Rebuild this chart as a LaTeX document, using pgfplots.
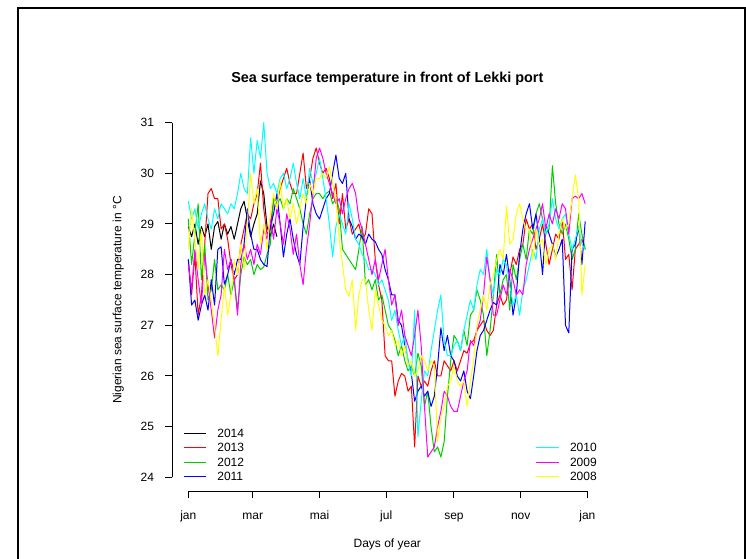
\documentclass[border=0pt]{standalone}
\usepackage{fontspec}
\setmainfont{Liberation Sans}
\usepackage{pgfplots}
\usepackage{pgfplotstable}
\pgfplotsset{compat=1.18}
\definecolor{cR}{HTML}{FF0000}
\definecolor{cG}{HTML}{00CD00}
\definecolor{cB}{HTML}{0000FF}
\definecolor{cC}{HTML}{00FFFF}
\definecolor{cM}{HTML}{FF00FF}
\definecolor{cY}{HTML}{FFFF00}
\pgfplotstableread{
d blk red grn blu cya mag yel
1 28.95 28.3 29.1 28.3 29.45 28.2 28.5
4 28.75 27.6 28.2 27.4 29.1 27.7 29.3
7 29.0 28.4 28.8 27.5 29.3 28.5 28.7
10 28.6 27.2 29.4 27.1 28.9 27.9 28.1
13 28.95 27.6 27.9 27.4 29.2 27.4 28.9
16 28.75 28.6 28.6 27.6 29.4 28.4 27.6
19 29.0 29.6 27.5 27.3 29.1 27.8 27.9
22 28.5 29.7 27.7 27.9 28.9 27.3 27.5
25 28.95 29.5 28.3 27.4 29.3 26.75 27.0
28 29.05 29.5 27.7 28.5 29.1 27.3 26.4
31 28.7 28.9 27.8 28.55 29.4 27.6 27.1
34 29.0 29.0 27.7 27.8 29.3 28.5 27.8
37 28.8 28.7 28.0 28.0 29.2 28.1 27.2
40 28.95 28.2 27.6 28.3 29.4 28.3 27.6
43 28.7 27.9 27.9 28.0 29.3 27.9 28.3
46 29.0 28.0 27.3 28.3 29.6 27.2 28.0
49 29.3 28.6 28.0 28.3 30.0 28.2 28.6
52 29.45 28.9 28.35 28.6 29.7 28.6 28.1
55 29.1 29.2 28.2 29.3 29.6 28.3 29.0
58 28.75 29.1 28.3 28.8 30.7 28.5 30.0
61 29.0 29.4 28.0 28.5 30.0 28.2 29.4
64 29.2 29.6 28.2 28.5 30.65 28.6 29.7
67 29.85 30.2 28.1 28.3 30.3 28.4 28.6
70 29.6 29.3 28.15 28.2 31.0 28.9 29.0
73 28.95 28.8 28.4 28.16 30.0 28.7 28.5
76 28.75 28.9 28.6 28.95 29.7 29.1 29.2
79 29.0 29.5 29.5 29.2 29.8 28.7 29.6
82 28.75 29.4 29.4 29.6 29.6 29.3 29.3
85 nan 29.7 29.5 29.0 29.9 29.0 29.85
88 nan 29.9 29.3 28.35 30.0 28.6 29.3
91 nan 30.1 29.5 28.8 29.7 29.2 29.5
94 nan 29.8 29.4 29.1 29.9 28.9 29.1
97 nan 29.6 29.7 28.7 30.2 28.4 29.4
100 nan 29.6 29.5 28.4 29.8 28.8 29.0
103 nan 30.0 29.3 28.2 29.5 28.2 29.3
106 nan 30.4 29.0 28.95 29.9 27.8 29.6
109 nan 29.7 28.8 29.5 29.5 28.5 29.4
112 nan 29.9 29.2 29.87 30.1 29.0 29.8
115 nan 30.3 29.5 29.4 29.8 29.6 29.6
118 nan 30.5 29.6 29.2 30.0 30.3 29.9
121 nan 30.2 29.6 29.1 30.3 30.5 29.9
124 nan 30.0 29.5 29.3 29.9 30.3 30.0
127 nan 30.1 29.6 29.5 29.5 30.0 29.9
130 nan 29.9 29.65 29.6 29.0 29.8 30.13
133 nan 29.5 29.4 30.0 28.35 29.6 29.8
136 nan 29.8 29.5 30.36 28.95 29.4 29.47
139 nan 29.0 29.3 29.9 29.2 29.5 28.7
142 nan 29.6 28.5 29.8 29.0 29.2 28.2
145 nan 28.9 28.4 30.0 28.8 29.5 27.7
148 nan 29.1 28.3 29.1 29.4 29.7 27.57
151 nan 28.8 28.2 28.95 29.1 29.8 27.9
154 nan 28.9 28.1 28.7 28.7 29.6 26.9
157 nan 29.0 28.5 28.8 28.6 29.1 27.6
160 nan 28.7 28.95 28.75 28.4 28.9 27.9
163 nan 28.8 27.8 28.6 28.3 28.6 27.9
166 nan 29.3 27.9 28.8 28.1 28.3 27.3
169 nan 29.2 27.7 28.7 28.1 28.0 26.9
172 nan 28.3 27.9 28.65 28.0 28.3 27.7
175 nan 27.8 27.5 28.5 27.8 27.9 27.4
178 nan 27.5 27.6 28.4 27.9 28.2 27.1
181 nan 26.4 27.3 28.1 27.7 28.5 27.0
184 nan 26.3 27.0 27.9 27.5 27.9 26.8
187 nan 26.3 26.9 27.6 27.1 27.4 26.9
190 nan 25.6 26.7 27.6 27.3 27.6 26.6
193 nan 25.9 26.4 27.1 26.9 27.0 26.7
196 nan 26.05 26.6 27.0 26.6 27.3 26.4
199 nan 26.0 26.3 26.6 26.8 26.8 26.6
202 nan 25.7 26.1 26.3 26.3 26.6 26.2
205 nan 25.8 26.2 26.05 26.0 26.4 26.3
208 nan 24.6 26.0 25.5 27.3 26.8 26.0
211 nan 26.0 26.45 25.7 24.8 27.3 26.1
214 nan 25.8 26.2 25.8 25.5 26.6 26.4
217 nan 25.9 25.4 25.6 26.1 25.4 26.3
220 nan 25.8 25.7 25.7 26.0 24.4 26.1
223 nan 26.1 25.0 25.4 26.5 24.5 26.3
226 nan 26.3 24.5 25.6 26.9 24.6 26.2
229 nan 26.0 24.6 26.2 27.3 25.0 24.7
232 nan 26.0 24.4 26.95 27.6 25.3 25.2
235 nan 26.3 24.7 26.5 26.7 25.7 25.4
238 nan 26.2 25.6 26.8 26.4 25.6 25.8
241 nan 26.1 26.3 26.4 26.4 25.4 25.9
244 nan 26.3 26.8 26.3 26.6 25.3 26.2
247 nan 26.1 26.7 26.0 26.7 25.3 25.9
250 nan 26.3 26.5 25.9 26.5 25.6 25.8
253 nan 26.5 26.9 26.1 26.9 25.9 25.9
256 nan 26.45 26.6 25.7 27.2 26.1 25.4
259 nan 26.65 27.2 25.55 27.5 26.7 25.9
262 nan 26.7 27.3 26.0 27.3 26.6 26.3
265 nan 26.9 27.7 26.5 27.8 26.9 27.0
268 nan 27.0 27.5 26.8 28.1 27.1 27.3
271 nan 27.1 27.2 26.9 28.0 27.6 27.6
274 nan 26.9 26.4 27.1 28.5 28.35 27.3
277 nan 26.8 26.9 27.3 27.9 27.9 27.8
280 nan 26.9 27.6 27.45 27.6 27.2 28.0
283 nan 27.4 28.4 27.4 28.1 27.2 28.3
286 nan 27.6 27.6 28.2 28.0 27.5 28.5
289 nan 27.4 27.9 28.0 28.3 27.8 28.3
292 nan 27.5 28.0 28.4 28.2 27.6 29.35
295 nan 28.0 27.3 27.9 27.8 28.1 28.6
298 nan 28.35 28.2 27.2 27.4 27.9 28.7
301 nan 28.2 27.9 27.6 27.6 27.6 29.2
304 nan 28.5 28.3 28.4 27.2 27.7 29.4
307 nan 28.6 28.6 28.9 27.7 27.6 29.1
310 nan 29.1 28.3 29.2 27.9 28.2 28.9
313 nan 28.9 28.9 29.4 28.2 28.5 28.9
316 nan 29.0 28.8 28.9 28.5 28.7 28.3
319 nan 28.5 29.2 29.2 28.3 28.9 28.9
322 nan 28.7 29.4 28.7 28.9 29.1 28.6
325 nan 29.0 29.1 28.0 29.1 29.4 28.7
328 nan 28.6 28.8 29.0 28.8 28.9 28.2
331 nan 28.2 28.9 28.8 29.0 29.2 28.5
334 nan 28.5 30.15 28.6 29.5 29.0 28.6
337 nan 28.8 29.4 28.35 29.1 29.3 28.3
340 nan 28.7 29.0 28.5 28.9 29.1 28.8
343 nan 29.1 28.8 28.7 29.1 29.4 29.1
346 nan 28.3 29.0 27.0 29.2 29.3 28.9
349 nan 28.4 28.7 26.85 28.8 28.8 29.0
352 nan 27.7 28.3 28.5 28.5 29.5 29.5
355 nan 28.5 28.5 28.6 28.7 29.55 29.97
358 nan 28.6 29.2 28.95 28.95 29.5 29.5
361 nan 28.7 28.8 28.2 28.6 29.6 27.6
364 nan 28.5 28.5 29.05 28.5 29.4 28.2
}\sst
\pgfplotsset{myax/.style={at={(129.3pt,50.625pt)}, anchor=south west,
  scale only axis, width=322.35pt, height=287.25pt,
  xmin=-13.56, xmax=379.56, ymin=23.72, ymax=31.28,
  hide axis, clip=false, unbounded coords=jump,
  legend cell align=left,
  legend image code/.code={\draw[##1] (0pt,0pt) -- (17pt,0pt);},
  every axis plot/.append style={line width=0.75pt, line join=round},
  legend style={draw=none, fill=none, inner sep=0pt, outer sep=0pt,
    row sep=4.4pt, column sep=8pt, font=\fontsize{9}{10.8}\selectfont,
    nodes={inner sep=0pt, text height=6.5pt, text depth=0pt}}}}
\newcommand{\xt}[2]{\draw[line width=0.75pt] (axis cs:#1,23.72) -- ([yshift=-5.25pt]axis cs:#1,23.72);
  \node[anchor=base, font=\fontsize{9}{10.8}\selectfont] at ([yshift=-20.8pt]axis cs:#1,23.72) {#2};}
\newcommand{\yt}[1]{\draw[line width=0.75pt] (axis cs:-13.56,#1) -- ([xshift=-5.25pt]axis cs:-13.56,#1);
  \node[anchor=east, font=\fontsize{9}{10.8}\selectfont] at ([xshift=-10.2pt]axis cs:-13.56,#1) {#1};}
\begin{document}
\begin{tikzpicture}[x=0.75pt,y=0.75pt]
\path[use as bounding box] (0,0) rectangle (746,559);
\draw[line width=1.5pt] (18,-2) -- (18,551) -- (745,551) -- (745,-2);
\node[font=\bfseries\fontsize{10.8}{13}\selectfont] at (387.3,480.5) {Sea surface temperature in front of Lekki port};
\node[font=\fontsize{9}{10.8}\selectfont] at (387.3,15) {Days of year};
\node[font=\fontsize{9}{10.8}\selectfont, rotate=90] at (118.3,259) {Nigerian sea surface temperature in °C};
\begin{axis}[myax, legend style={at={(0,0)}, anchor=south west, xshift=7.95pt, yshift=7.9pt}]
\addplot[black] table[x=d,y=blk]{\sst}; \addlegendentry{2014}
\addplot[cR] table[x=d,y=red]{\sst}; \addlegendentry{2013}
\addplot[cG] table[x=d,y=grn]{\sst}; \addlegendentry{2012}
\addplot[cB] table[x=d,y=blu]{\sst}; \addlegendentry{2011}
\draw[line width=0.75pt] (axis cs:1,23.72) -- (axis cs:366,23.72);
\xt{1}{jan}\xt{60}{mar}\xt{121}{mai}\xt{182}{jul}\xt{244}{sep}\xt{305}{nov}\xt{366}{jan}
\draw[line width=0.75pt] (axis cs:-13.56,24) -- (axis cs:-13.56,31);
\yt{24}\yt{25}\yt{26}\yt{27}\yt{28}\yt{29}\yt{30}\yt{31}
\end{axis}
\begin{axis}[myax, legend style={at={(1,0)}, anchor=south east, xshift=-4.1pt, yshift=7.9pt}]
\addplot[cC] table[x=d,y=cya]{\sst}; \addlegendentry{2010}
\addplot[cM] table[x=d,y=mag]{\sst}; \addlegendentry{2009}
\addplot[cY] table[x=d,y=yel]{\sst}; \addlegendentry{2008}
\end{axis}
\end{tikzpicture}
\end{document}
